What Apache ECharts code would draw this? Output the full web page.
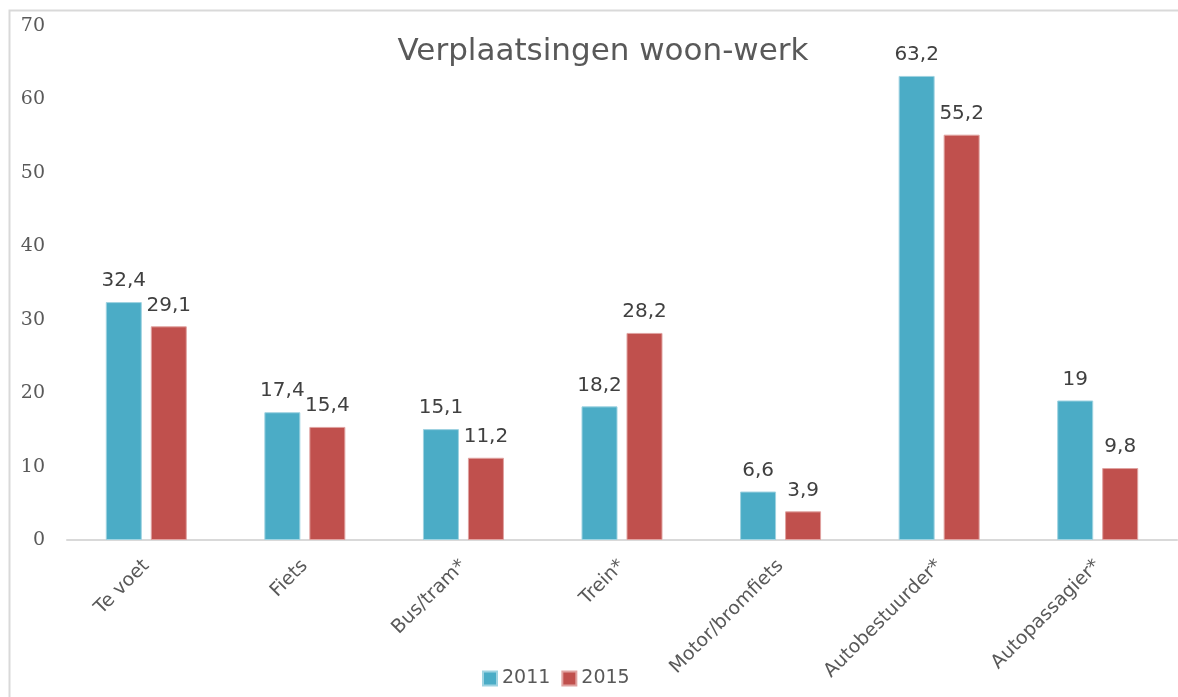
<!DOCTYPE html>
<html>
<head>
<meta charset="utf-8">
<script src="https://cdn.jsdelivr.net/npm/echarts@6/dist/echarts.min.js"></script>
<style>
  html, body {margin: 0; padding: 0; background: #fff;}
  #chart {width: 1178px; height: 697px;}
</style>
</head>
<body>
<div id="chart"></div>
<script>
const categories = ['Te voet', 'Fiets', 'Bus/tram*', 'Trein*', 'Motor/bromfiets', 'Autobestuurder*', 'Autopassagier*']
const data2011 = [32.4, 17.4, 15.1, 18.2, 6.6, 63.2, 19]
const data2015 = [29.1, 15.4, 11.2, 28.2, 3.9, 55.2, 9.8]
const seriesNames = ['2011', '2015']

const chart = echarts.init(document.getElementById('chart'))

// komma als decimaalteken
const fmt = p => String(p.value).replace('.', ',')

const labelStyle = {
  show: true,
  position: 'top',
  distance: 11,
  formatter: fmt,
  fontFamily: 'DejaVu Sans',
  fontSize: 20,
  color: '#404040'
}

chart.setOption({
  animation: false,
  title: {
    text: 'Verplaatsingen woon-werk',
    left: 598,
    top: 31,
    textAlign: 'center',
    textStyle: {
      fontFamily: 'DejaVu Sans',
      fontSize: 31,
      fontWeight: 'normal',
      color: '#595959'
    }
  },
  legend: {
    data: seriesNames,
    left: 477,
    top: 664,
    itemWidth: 14,
    itemHeight: 14,
    itemGap: 11,
    icon: 'rect',
    textStyle: {
      fontFamily: 'DejaVu Sans',
      fontSize: 19,
      color: '#595959'
    }
  },
  graphic: [{
    type: 'polyline',
    shape: {points: [[9.5, 700], [9.5, 10.5], [1178, 10.5]]},
    style: {stroke: '#d9d9d9', lineWidth: 2, fill: null}
  }],
  grid: {
    left: 67,
    right: 1,
    top: 26,
    bottom: 157
  },
  xAxis: {
    type: 'category',
    data: categories,
    axisLine: {lineStyle: {color: '#d9d9d9', width: 2}},
    axisTick: {show: false},
    axisLabel: {
      rotate: 45,
      interval: 0,
      margin: 23,
      fontFamily: 'DejaVu Sans',
      fontSize: 19,
      color: '#595959'
    }
  },
  yAxis: {
    type: 'value',
    min: 0,
    max: 70,
    interval: 10,
    splitLine: {show: false},
    axisLine: {show: false},
    axisTick: {show: false},
    axisLabel: {
      margin: 22,
      fontFamily: 'DejaVu Serif',
      fontSize: 19,
      color: '#595959'
    }
  },
  series: [
    {
      name: seriesNames[0],
      type: 'bar',
      data: data2011,
      barWidth: 36,
      barGap: '25%',
      itemStyle: {color: '#4BACC6', borderColor: '#9fd3e1', borderWidth: 1},
      label: labelStyle
    },
    {
      name: seriesNames[1],
      type: 'bar',
      data: data2015,
      barWidth: 36,
      itemStyle: {color: '#C0504D', borderColor: '#e0a3a1', borderWidth: 1},
      label: labelStyle
    }
  ]
})
</script>
</body>
</html>
